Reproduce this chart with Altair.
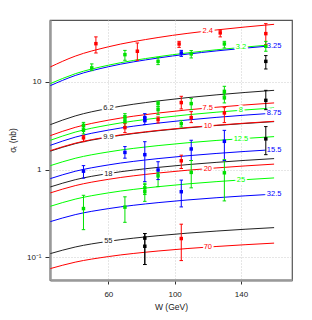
import altair as alt
import pandas as pd

# ---- model curves (sigma_t in nb) ----
curve_W = [25, 40, 60, 90, 125, 160]
curve_names = ["2.4", "3.2", "3.25", "6.2", "7.5", "8", "8.75", "9.9", "10",
               "12.5", "15.5", "18", "20", "25", "32.5", "55", "70"]
curve_colors = ["red", "green", "blue", "black", "red", "green", "blue", "black", "red",
                "green", "blue", "black", "red", "green", "blue", "black", "red"]
sig_2_4 = [14.78, 19.61, 25.05, 31.95, 38.93, 45.17]
sig_3_2 = [9.54, 12.36, 15.46, 19.32, 23.15, 26.53]
sig_3_25 = [9.05, 11.80, 14.85, 18.67, 22.47, 25.84]
sig_6_2 = [3.254, 4.087, 4.977, 6.055, 7.10, 8.00]
sig_7_5 = [2.439, 3.029, 3.656, 4.408, 5.13, 5.75]
sig_8 = [2.157, 2.674, 3.221, 3.877, 4.505, 5.04]
sig_8_75 = [1.891, 2.342, 2.818, 3.387, 3.934, 4.40]
sig_9_9 = [1.624, 1.975, 2.340, 2.771, 3.178, 3.522]
sig_10 = [1.646, 2.000, 2.365, 2.797, 3.204, 3.549]
sig_12_5 = [1.110, 1.346, 1.590, 1.877, 2.147, 2.376]
sig_15_5 = [0.790, 0.957, 1.131, 1.335, 1.527, 1.690]
sig_18 = [0.635, 0.767, 0.902, 1.060, 1.209, 1.335]
sig_20 = [0.543, 0.657, 0.775, 0.914, 1.045, 1.155]
sig_25 = [0.382, 0.461, 0.543, 0.639, 0.729, 0.804]
sig_32_5 = [0.2557, 0.3069, 0.3594, 0.4206, 0.4778, 0.526]
sig_55 = [0.1105, 0.1313, 0.1524, 0.1768, 0.1995, 0.2185]
sig_70 = [0.0746, 0.0883, 0.1022, 0.1183, 0.1331, 0.1455]
curve_sigmas = [sig_2_4, sig_3_2, sig_3_25, sig_6_2, sig_7_5, sig_8, sig_8_75, sig_9_9,
                sig_10, sig_12_5, sig_15_5, sig_18, sig_20, sig_25, sig_32_5, sig_55, sig_70]

# ---- curve labels ----
label_W = [120, 140, 160, 60, 120, 140, 160, 60, 120, 140, 160, 60, 120, 140, 160, 60, 120]
label_sigma = [38.0, 24.65, 25.84, 4.977, 5.03, 4.75, 4.40, 2.340, 3.15, 2.249, 1.690,
               0.902, 1.028, 0.762, 0.526, 0.1524, 0.1312]

# ---- data points with errors ----
pt_W = [52.5, 77.5, 102.7, 127.5, 155,
        50, 70, 90, 110, 130, 155,
        104, 155,
        45, 45, 45, 70, 70, 70, 82, 82, 90, 90, 90, 104, 104, 110, 110, 130, 130, 130, 155,
        45, 70, 82, 90, 104, 110, 110, 130, 130, 155, 82, 82, 90, 104, 45, 70,
        82, 82, 104]
pt_sigma = [27.2, 22.3, 27.0, 36.1, 35.4,
            14.4, 20.4, 17.1, 20.8, 27.0, 25.4,
            21.3, 17.1,
            3.2, 2.8, 2.30, 4.01, 3.52, 3.01, 3.91, 3.61, 5.65, 4.82, 3.71, 5.80, 3.34, 5.65, 3.91, 7.79, 6.56, 4.42, 6.15,
            0.96, 1.57, 1.48, 0.99, 1.26, 1.72, 0.93, 2.10, 0.92, 2.24, 0.62, 0.56, 0.85, 0.56, 0.36, 0.374,
            0.166, 0.134, 0.164]
pt_lo = [21.3, 17.6, 24.7, 32.5, 26.5,
         13.4, 17.6, 15.7, 18.7, 24.3, 22.3,
         19.5, 14.0,
         2.95, 2.55, 2.08, 3.7, 3.09, 2.64, 3.6, 3.26, 5.2, 4.23, 3.40, 4.91, 3.06, 4.82, 3.43, 6.9, 5.75, 3.43, 4.82,
         0.80, 1.35, 0.73, 0.77, 1.03, 1.27, 0.62, 1.27, 0.44, 1.48, 0.52, 0.435, 0.64, 0.376, 0.207, 0.251,
         0.083, 0.083, 0.092]
pt_hi = [32.5, 27.7, 28.9, 38.6, 46.0,
         16.0, 22.8, 18.9, 22.7, 28.9, 28.9,
         22.8, 19.9,
         3.45, 3.05, 2.44, 4.34, 3.8, 3.34, 4.34, 3.9, 6.0, 5.2, 3.98, 6.84, 3.64, 6.44, 4.58, 8.89, 7.4, 5.08, 8.0,
         1.11, 1.83, 2.08, 1.23, 1.46, 2.16, 1.27, 2.80, 1.30, 3.09, 0.70, 0.675, 0.92, 0.76, 0.51, 0.49,
         0.187, 0.187, 0.239]
pt_color = ["red"] * 5 + ["green"] * 6 + ["blue", "black"] + \
    ["green", "green", "red", "green", "green", "red", "blue", "blue", "green", "green", "red",
     "red", "green", "green", "red", "green", "green", "red", "black"] + \
    ["blue", "blue", "blue", "blue", "red", "blue", "green", "blue", "green", "black",
     "green", "green", "green", "blue", "green", "green"] + \
    ["black", "black", "red"]

line_hex = {"red": "#ff0000", "green": "#00ff00", "blue": "#0000ff", "black": "#222222"}
pt_hex = {"red": "#ff0000", "green": "#00e000", "blue": "#0000ff", "black": "#000000"}

curve_rows = []
for name, col, vals in zip(curve_names, curve_colors, curve_sigmas):
    for w, s in zip(curve_W, vals):
        curve_rows.append({"curve": name, "color": line_hex[col], "W": w, "sigma": s})
curves_df = pd.DataFrame(curve_rows)

labels_df = pd.DataFrame({"text": curve_names, "W": label_W, "sigma": label_sigma,
                          "color": [line_hex[c] for c in curve_colors]})

pts_df = pd.DataFrame({"W": pt_W, "sigma": pt_sigma, "lo": pt_lo, "hi": pt_hi,
                       "color": [pt_hex[c] for c in pt_color]})

FONT = "Liberation Sans"
xscale = alt.Scale(domain=[24.8, 170.8], nice=False, zero=False)
yscale = alt.Scale(type="log", domain=[0.0553, 50.6], nice=False)

xaxis = alt.Axis(values=[60, 100, 140], title="W (GeV)", grid=True, gridDash=[1, 2],
                 gridColor="#cccccc", domainColor="#999999", domainWidth=2.5,
                 tickColor="#333333", tickSize=4, labelPadding=6, labelFontSize=8,
                 labelFont=FONT, labelColor="#222222", titleFont=FONT, titleFontSize=8.5,
                 titleFontWeight="normal", titleY=26, titleBaseline="middle", titleColor="#222222")
yaxis = alt.Axis(values=[0.1, 1, 10], title="σₜ (nb)", grid=True, gridDash=[1, 2],
                 gridColor="#cccccc", domainColor="#999999", domainWidth=2.5,
                 tickColor="#333333", tickSize=5, labelPadding=4, labelFontSize=8,
                 labelFont=FONT, labelColor="#222222",
                 labelExpr="datum.value < 0.5 ? '10⁻¹' : (datum.value < 5 ? '1' : '10')",
                 titleFont=FONT, titleFontSize=8.5, titleFontWeight="normal",
                 titleX=-38, titleY=120, titleAngle=270, titleAlign="center",
                 titleBaseline="middle", titleColor="#222222")

X = alt.X("W:Q", scale=xscale, axis=xaxis)
Y = alt.Y("sigma:Q", scale=yscale, axis=yaxis)

lines = alt.Chart(curves_df).mark_line(strokeWidth=1, interpolate="monotone", clip=True).encode(
    x=X, y=Y, detail="curve:N", color=alt.Color("color:N", scale=None),
)

halo = alt.Chart(labels_df).mark_text(fontSize=7.5, font=FONT, fill="white", stroke="white",
                                      strokeWidth=4).encode(x=X, y=Y, text="text:N")
labels = alt.Chart(labels_df).mark_text(fontSize=7.5, font=FONT).encode(
    x=X, y=Y, text="text:N", color=alt.Color("color:N", scale=None),
)

bars = alt.Chart(pts_df).mark_rule(strokeWidth=1).encode(
    x=X, y=alt.Y("lo:Q", scale=yscale, axis=yaxis), y2="hi:Q",
    color=alt.Color("color:N", scale=None),
)
cap_lo = alt.Chart(pts_df).mark_point(shape="stroke", size=12, strokeWidth=1, filled=False,
                                      opacity=1).encode(
    x=X, y=alt.Y("lo:Q", scale=yscale, axis=yaxis), color=alt.Color("color:N", scale=None),
)
cap_hi = alt.Chart(pts_df).mark_point(shape="stroke", size=12, strokeWidth=1, filled=False,
                                      opacity=1).encode(
    x=X, y=alt.Y("hi:Q", scale=yscale, axis=yaxis), color=alt.Color("color:N", scale=None),
)
points = alt.Chart(pts_df).mark_square(size=12, opacity=1).encode(
    x=X, y=Y, color=alt.Color("color:N", scale=None),
)

chart = alt.layer(lines, halo, labels, bars, cap_lo, cap_hi, points).properties(
    width=242, height=260,
    padding={"left": 42, "top": 12, "right": 12, "bottom": 32},
    autosize=alt.AutoSizeParams(type="none"),
    background="white",
).configure_view(stroke="#555555", strokeWidth=1.2)

chart.save("out.html", embed_options={"renderer": "svg", "actions": False})
